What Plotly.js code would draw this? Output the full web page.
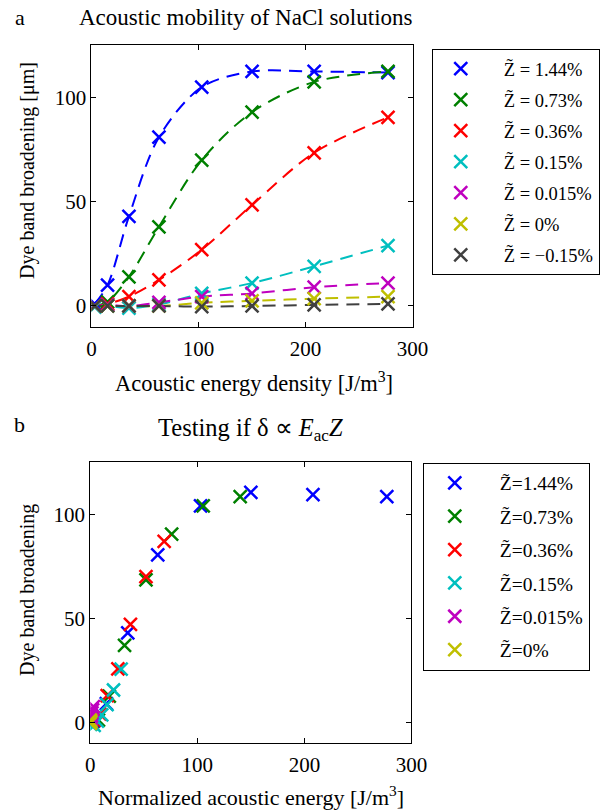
<!DOCTYPE html>
<html><head><meta charset="utf-8">
<script src="https://cdn.plot.ly/plotly-3.0.1.min.js"></script>
<style>body{margin:0;padding:0;background:#fff}#c{width:600px;height:811px}</style>
</head><body><div id="c"></div>
<script>
// ---- Data ----
const seriesNames = ["1.44%", "0.73%", "0.36%", "0.15%", "0.015%", "0%", "\u22120.15%"];
const seriesColors = ["#0000FF", "#008000", "#FF0000", "#00BFBF", "#BF00BF", "#BFBF00", "#404040"];

// Panel a: acoustic energy density [J/m^3]
const energy = [3, 15, 35, 63, 103, 150, 208, 277];
const aBlue    = [1, 10, 43, 81, 105, 112.5, 112.5, 112];
const aGreen   = [0, 2, 14, 38, 70, 93, 107.5, 112.5];
const aRed     = [0, 1, 4.5, 12.5, 27, 48.5, 73.5, 90.5];
const aCyan    = [-0.5, 0, -1, 0.7, 6, 11, 19, 29];
const aMagenta = [0, 0.5, 0, 1.7, 4.5, 6, 9, 11];
const aYellow  = [0, 0, 0, 0, 1.5, 2.5, 3.5, 4.5];
const aGray    = [0, 0, 0, 0, -0.3, 0, 0.5, 1];

// Panel b: normalized acoustic energy [J/m^3]
const bBlueX    = [3, 15, 35, 63, 103, 150, 208, 277];
const bBlueY    = [0.5, 9, 43, 80.5, 104, 110.5, 109.5, 108.5];
const bGreenX   = [1.5, 7.6, 17.7, 32, 52, 76, 105.5, 140];
const bGreenY   = [0, 1, 12.5, 37, 68.5, 90.5, 104, 108.5];
const bRedX     = [0.75, 3.75, 8.75, 15.75, 25.75, 37.5, 52, 69];
const bRedY     = [0, 1, 4, 12.8, 25.7, 47, 70, 87];
const bCyanX    = [0.3, 1.6, 3.6, 6.6, 10.7, 15.6, 21.7, 28.8];
const bCyanY    = [-1, -0.5, -1.5, 0.5, 3.5, 8.5, 15.5, 25.5];
const bMagentaX = [0.03, 0.16, 0.36, 0.66, 1.07, 1.56, 2.17, 2.88];
const bMagentaY = [0, 0.5, 0, 1.5, 3, 4.5, 6, 7.5];
const bYellowX  = [0, 0, 0, 0, 0, 0, 0, 0];
const bYellowY  = [0, 0, 0, -0.5, 0, 0.5, 0.5, 1];

const xTicks = [0, 100, 200, 300];
const yTicks = [0, 50, 100];

// ---- Build traces ----
const FONT = "Liberation Serif, Times New Roman, serif";
const aY = [aBlue, aGreen, aRed, aCyan, aMagenta, aYellow, aGray];
const bX = [bBlueX, bGreenX, bRedX, bCyanX, bMagentaX, bYellowX];
const bY = [bBlueY, bGreenY, bRedY, bCyanY, bMagentaY, bYellowY];

const traces = [];
aY.forEach((ys, i) => {
  traces.push({
    x: energy, y: ys, xaxis: 'x', yaxis: 'y', mode: 'lines', type: 'scatter',
    line: {color: seriesColors[i], width: 2, dash: '13px,8px', shape: 'spline', smoothing: 0.9},
    showlegend: false, hoverinfo: 'skip'
  });
});
aY.forEach((ys, i) => {
  traces.push({
    x: energy, y: ys, xaxis: 'x', yaxis: 'y', mode: 'markers', type: 'scatter',
    name: 'Z\u0303 = ' + seriesNames[i], legend: 'legend', legendgroup: 'a' + i,
    marker: {symbol: 'x-thin', size: 13, line: {color: seriesColors[i], width: 2.5}}
  });
});
bY.forEach((ys, i) => {
  traces.push({
    x: bX[i], y: ys, xaxis: 'x2', yaxis: 'y2', mode: 'markers', type: 'scatter',
    name: 'Z\u0303=' + seriesNames[i], legend: 'legend2', legendgroup: 'b' + i,
    marker: {symbol: 'x-thin', size: 13, line: {color: seriesColors[i], width: 2.5}}
  });
});

function ax(domain, range, ticks, anchor, isX) {
  const o = {
    domain: domain, range: range, tickvals: ticks, ticktext: ticks.map(String),
    ticks: 'inside', ticklen: 5, tickwidth: 1, tickcolor: '#000',
    showline: true, linecolor: '#000', linewidth: 1, mirror: 'ticks',
    showgrid: false, zeroline: false, anchor: anchor,
    tickfont: {family: FONT, size: 21, color: '#000'}
  };
  if (isX) o.ticklabelstandoff = 3;
  return o;
}

const legendBase = {
  bordercolor: '#000', borderwidth: 1, bgcolor: '#fff',
  xanchor: 'left', yanchor: 'top', traceorder: 'grouped'
};

const ann = (text, x, y, size, opts) => Object.assign({
  text: text, x: x, y: y, xref: 'paper', yref: 'paper', showarrow: false,
  xanchor: 'center', yanchor: 'middle', font: {family: FONT, size: size, color: '#000'}
}, opts || {});

const layout = {
  width: 600, height: 811, margin: {l: 0, r: 0, t: 0, b: 0},
  paper_bgcolor: '#fff', plot_bgcolor: '#fff', showlegend: true,
  xaxis: ax([0.153, 0.69], [0, 300], xTicks, 'y', true),
  yaxis: ax([0.597, 0.944], [-10, 125], yTicks, 'x', false),
  xaxis2: ax([0.151, 0.688], [0, 300], xTicks, 'y2', true),
  yaxis2: ax([0.0838, 0.430], [-10, 125], yTicks, 'x2', false),
  legend: Object.assign({}, legendBase, {x: 0.722, y: 0.9396, tracegroupgap: 4,
    itemwidth: 76, indentation: -15,
    font: {family: FONT, size: 18.5, color: '#000'}}),
  legend2: Object.assign({}, legendBase, {x: 0.707, y: 0.4295, tracegroupgap: 5,
    itemwidth: 80, indentation: -14,
    font: {family: FONT, size: 19.5, color: '#000'}}),
  annotations: [
    ann('a', 20/600, 0.978, 22),
    ann('Acoustic mobility of NaCl solutions', 247/600, 0.978, 23),
    ann('b', 20/600, 0.476, 22),
    ann('Testing if \u03b4 \u221d <i>E</i><sub>ac</sub><i>Z</i>', 251/600, 0.470, 24.5),
    ann('Acoustic energy density [J/m<sup>3</sup>]', 255/600, 1 - 382/811, 22.5),
    ann('Normalized acoustic energy [J/m<sup>3</sup>]', 252/600, 1 - 796/811, 22)
  ].concat([
    ann('Dye band broadening [\u03bcm]', 27/600, 1 - 170/811, 20, {textangle: -90}),
    ann('Dye band broadening', 27/600, 1 - 590/811, 20, {textangle: -90})
  ])
};

Plotly.newPlot('c', traces, layout, {displayModeBar: false, staticPlot: true});
</script></body></html>
